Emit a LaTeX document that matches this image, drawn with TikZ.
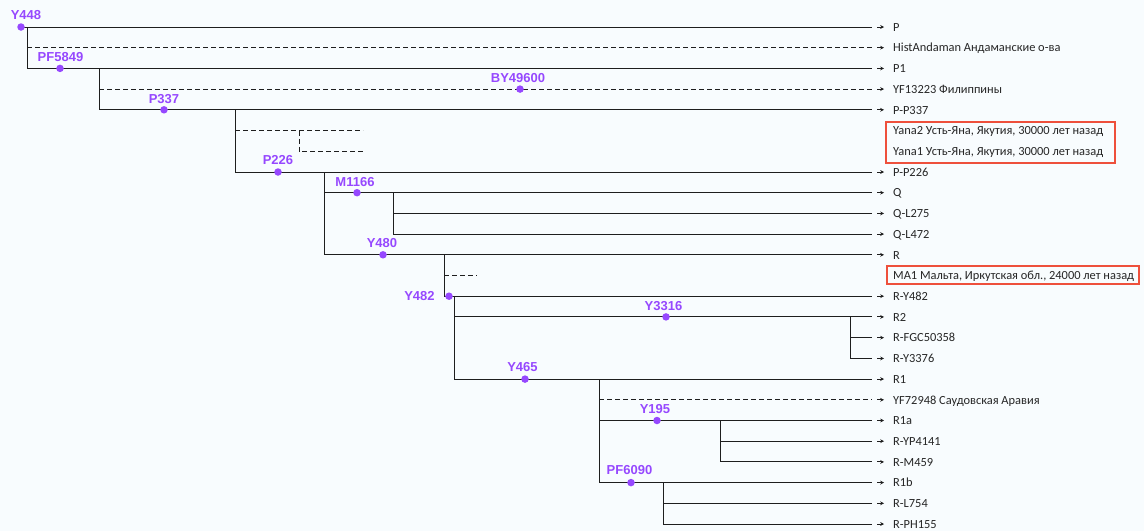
\documentclass[tikz,border=0pt]{standalone}
\usepackage{fontspec}
\setmainfont{Carlito}
\newfontfamily\snpfont{Liberation Sans}
\usetikzlibrary{arrows.meta}
\definecolor{bg}{RGB}{248,252,254}
\definecolor{snp}{RGB}{150,72,255}
\definecolor{boxred}{RGB}{238,80,60}
\definecolor{ln}{RGB}{30,30,30}
\begin{document}
\begin{tikzpicture}[x=1pt,y=-1pt,
  tl/.style={draw=ln,line width=1pt},
  dl/.style={tl,dash pattern=on 5pt off 3pt},
  dot/.style={circle,fill=snp,inner sep=0pt,minimum size=7.5pt},
  snplbl/.style={font=\snpfont\bfseries\fontsize{13}{13}\selectfont,text=snp,inner sep=0pt},
  leaf/.style={font=\fontsize{12.4}{13}\selectfont,anchor=base west,inner sep=0pt,text=black!85},
  tip/.style={-{Stealth[length=3.8pt,width=3.8pt]},draw=ln,line width=0.9pt},
  redbox/.style={draw=boxred,line width=1.1pt}]
\fill[bg] (0,0) rectangle (1144,531);
\useasboundingbox (0,0) rectangle (1144,531);

% leaf labels (base line = row y + 3.8)
\node[leaf] (L0)  at (893,31.2)  {P};
\node[leaf] (L1)  at (893,51.9)  {HistAndaman Андаманские о-ва};
\node[leaf] (L2)  at (893,72.6)  {P1};
\node[leaf] (L3)  at (893,93.3)  {YF13223 Филиппины};
\node[leaf] (L4)  at (893,114.0) {P-P337};
\node[leaf] (L5)  at (893,134.8) {Yana2 Усть-Яна, Якутия, 30000 лет назад};
\node[leaf] (L6)  at (893,155.5) {Yana1 Усть-Яна, Якутия, 30000 лет назад};
\node[leaf] (L7)  at (893,176.2) {P-P226};
\node[leaf] (L8)  at (893,196.9) {Q};
\node[leaf] (L9)  at (893,217.6) {Q-L275};
\node[leaf] (L10) at (893,238.3) {Q-L472};
\node[leaf] (L11) at (893,259.0) {R};
\node[leaf] (L12) at (893,279.7) {MA1 Мальта, Иркутская обл., 24000 лет назад};
\node[leaf] (L13) at (893,300.4) {R-Y482};
\node[leaf] (L14) at (893,321.1) {R2};
\node[leaf] (L15) at (893,341.9) {R-FGC50358};
\node[leaf] (L16) at (893,362.6) {R-Y3376};
\node[leaf] (L17) at (893,383.3) {R1};
\node[leaf] (L18) at (893,404.0) {YF72948 Саудовская Аравия};
\node[leaf] (L19) at (893,424.7) {R1a};
\node[leaf] (L20) at (893,445.4) {R-YP4141};
\node[leaf] (L21) at (893,466.1) {R-M459};
\node[leaf] (L22) at (893,486.8) {R1b};
\node[leaf] (L23) at (893,507.5) {R-L754};
\node[leaf] (L24) at (893,528.2) {R-PH155};

\draw[redbox] (886,122) rectangle (1115,163);
\draw[redbox] (887,266) rectangle (1139,284);

% line ends and arrows
\foreach \i/\y in {0/27,1/47.7,2/68.4,3/89.1,4/109.8,7/172.0,8/192.7,9/213.4,10/234.1,11/254.8,13/296.2,14/316.9,15/337.7,16/358.4,17/379.1,18/399.8,19/420.5,20/441.2,21/461.9,22/482.6,23/503.3,24/524.0}{
  \coordinate (e\i) at (872,\y);
  \draw[tip] ([xshift=5pt]e\i) -- ([xshift=12pt]e\i);
}

% branch points
\coordinate (b0) at (27,27);
\coordinate (b1) at (99,68.4);
\coordinate (b2) at (235,109.8);
\coordinate (b2y) at (299,130.6);
\coordinate (y5) at (363,130.6);
\coordinate (y6) at (363,151.3);
\coordinate (b3) at (324,172.0);
\coordinate (b4) at (393,192.7);
\coordinate (b5) at (444,254.8);
\coordinate (m12) at (477,275.5);
\coordinate (b6) at (454,296.2);
\coordinate (b7) at (850,316.9);
\coordinate (b8) at (599,379.1);
\coordinate (b9) at (720,420.5);
\coordinate (b10) at (663,482.6);

% tree lines
\draw[tl] (21,27) -- (e0);
\draw[dl] (b0 |- e1) -- (e1);
\draw[tl] (b0) |- (e2);
\draw[dl] (b1 |- e3) -- (e3);
\draw[tl] (b1) |- (e4);
\draw[dl] (b2 |- y5) -- (y5);
\draw[dl] (b2y) |- (y6);
\draw[tl] (b2) |- (e7);
\draw[tl] (b3) |- (e11);
\draw[tl] (b3 |- e8) -- (e8);
\draw[tl] (b4) |- (e10);
\draw[tl] (b4 |- e9) -- (e9);
\draw[dl] (b5 |- m12) -- (m12);
\draw[tl] (b5) -- (b5 |- e13) -- (449,296.2);
\draw[tl] (449,296.2) -- (e13);
\draw[tl] (b6) |- (e17);
\draw[tl] (b6 |- e14) -- (e14);
\draw[tl] (b7) |- (e16);
\draw[tl] (b7 |- e15) -- (e15);
\draw[dl] (b8 |- e18) -- (e18);
\draw[tl] (b8) |- (e22);
\draw[tl] (b8 |- e19) -- (e19);
\draw[tl] (b9) |- (e21);
\draw[tl] (b9 |- e20) -- (e20);
\draw[tl] (b10) |- (e24);
\draw[tl] (b10 |- e23) -- (e23);

% SNP dots
\node[dot] (dY448)   at (21,27) {};
\node[dot] (dPF5849) at (60,68.4) {};
\node[dot] (dBY)     at (520,89.1) {};
\node[dot] (dP337)   at (164,109.8) {};
\node[dot] (dP226)   at (278,172.0) {};
\node[dot] (dM1166)  at (357,192.7) {};
\node[dot] (dY480)   at (383,254.8) {};
\node[dot] (dY482)   at (449,296.2) {};
\node[dot] (dY3316)  at (666,316.9) {};
\node[dot] (dY465)   at (525,379.1) {};
\node[dot] (dY195)   at (657,420.5) {};
\node[dot] (dPF6090) at (631,482.6) {};

% SNP labels
\node[snplbl] (tY448)   at (26,15.5)    {Y448};
\node[snplbl] (tPF5849) at (60.5,57)    {PF5849};
\node[snplbl] (tBY)     at (518,78)     {BY49600};
\node[snplbl] (tP337)   at (164,99)     {P337};
\node[snplbl] (tP226)   at (278,160)    {P226};
\node[snplbl] (tM1166)  at (355,182)    {M1166};
\node[snplbl] (tY480)   at (382,243)    {Y480};
\node[snplbl] (tY482)   at (419.5,296)  {Y482};
\node[snplbl] (tY3316)  at (663.5,306.5){Y3316};
\node[snplbl] (tY465)   at (522.5,367)  {Y465};
\node[snplbl] (tY195)   at (655,409)    {Y195};
\node[snplbl] (tPF6090) at (629.5,470)  {PF6090};
\end{tikzpicture}
\end{document}
